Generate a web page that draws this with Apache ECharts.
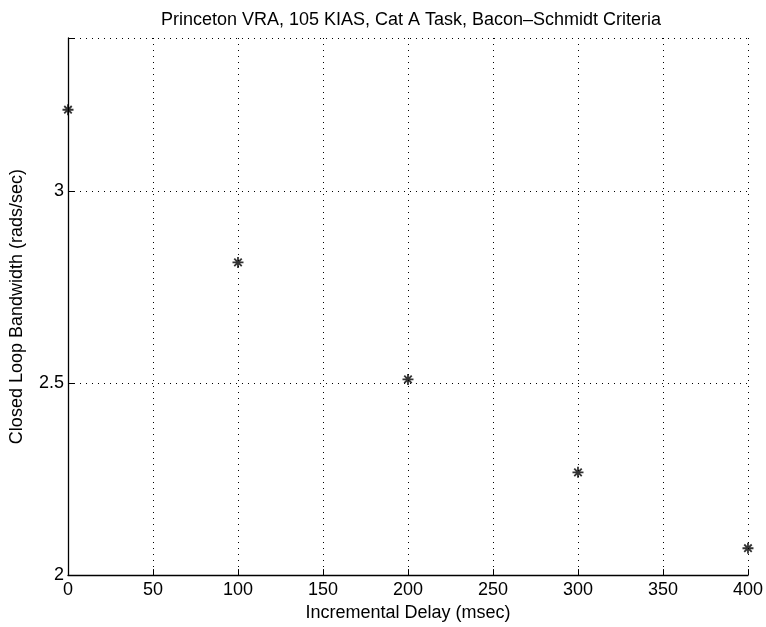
<!DOCTYPE html>
<html>
<head>
<meta charset="utf-8">
<script src="https://cdn.jsdelivr.net/npm/echarts@6/dist/echarts.min.js"></script>
<style>
  html, body { margin: 0; padding: 0; background: #fff; }
  #chart { width: 766px; height: 627px; }
</style>
</head>
<body>
<div id="chart"></div>
<script>
// Incremental delay (msec) and measured closed loop bandwidth (rads/sec)
const delays = [0, 100, 200, 300, 400];
const bandwidth = [3.213, 2.815, 2.51, 2.268, 2.07];
const xTicks = [0, 50, 100, 150, 200, 250, 300, 350, 400];
const yTicks = [2, 2.5, 3];

const FONT = '"Liberation Sans", Arial, Helvetica, sans-serif';
// asterisk marker: plus and cross strokes
const ASTERISK = 'path://M0,5L10,5M5,0L5,10M1.6,1.6L8.4,8.4M8.4,1.6L1.6,8.4';

const chart = echarts.init(document.getElementById('chart'), null, { renderer: 'canvas' });

chart.setOption({
  backgroundColor: '#ffffff',
  animation: false,
  title: {
    text: 'Princeton VRA, 105 KIAS, Cat A Task, Bacon\u2013Schmidt Criteria',
    left: 406, top: 6, textAlign: 'center',
    textStyle: { fontFamily: FONT, fontSize: 18, fontWeight: 'normal', color: '#000' }
  },
  grid: { left: 63, right: 18, top: 38, bottom: 48, containLabel: false },
  xAxis: {
    type: 'value', min: 0, max: 400, interval: 50,
    name: 'Incremental Delay (msec)', nameLocation: 'middle', nameGap: 28,
    nameTextStyle: { fontFamily: FONT, fontSize: 18, color: '#000' },
    axisLine: { show: true, onZero: false, lineStyle: { color: '#000', width: 1.3 } },
    axisTick: { show: true, inside: true, length: 6, lineStyle: { color: '#000', width: 1 } },
    axisLabel: { fontFamily: FONT, fontSize: 18, color: '#000', margin: 6,
      formatter: v => (xTicks.indexOf(v) >= 0 ? String(v) : '') },
    splitLine: { show: true, lineStyle: { color: '#000', type: [1, 5], width: 1 } }
  },
  yAxis: {
    type: 'value', min: 2, max: 3.4, interval: 0.5,
    name: 'Closed Loop Bandwidth (rads/sec)', nameLocation: 'middle', nameGap: 42,
    nameTextStyle: { fontFamily: FONT, fontSize: 18, color: '#000' },
    axisLine: { show: true, onZero: false, lineStyle: { color: '#000', width: 1.3 } },
    axisTick: { show: true, inside: true, length: 6, lineStyle: { color: '#000', width: 1 } },
    axisLabel: { fontFamily: FONT, fontSize: 18, color: '#000', margin: 4,
      formatter: v => (yTicks.some(t => Math.abs(t - v) < 1e-9) ? String(v) : '') },
    splitLine: { show: true, lineStyle: { color: '#000', type: [1, 5], width: 1 } }
  },
  series: [{
    type: 'scatter',
    data: delays.map((d, i) => [d, bandwidth[i]]),
    symbol: ASTERISK,
    symbolSize: 11,
    clip: false,
    itemStyle: { color: '#000', borderColor: '#000', borderWidth: 1.8 }
  }]
});
</script>
</body>
</html>
